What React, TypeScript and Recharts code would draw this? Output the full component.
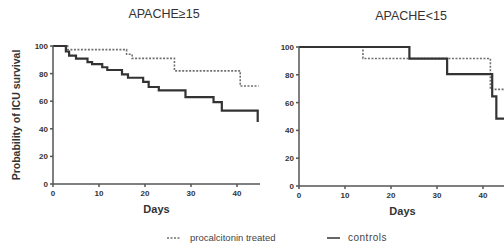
import { Line, LineChart, XAxis, YAxis } from "recharts"

const FONT = '"Liberation Sans", Arial, sans-serif'
const INK = "#333"
const DOTTED = "#707070"
const AXIS = "#555"
const TEXT = "#333"

const dayTicks = [0, 10, 20, 30, 40]
const pctTicks = [0, 20, 40, 60, 80, 100]

// APACHE >= 15
const highTreatedDays = [0, 3.2, 16, 17.2, 26.4, 40.7, 44.7]
const highTreatedPct = [100, 97.4, 94, 91, 82, 71, 71]
const highControlDays = [0, 2.8, 3.5, 5, 7.5, 8.5, 10.7, 11.8, 15, 16.3, 19.6, 20.8, 23, 28.8, 34.9, 36.7, 44.5]
const highControlPct = [100, 96, 93, 90.8, 88.3, 86.8, 84.6, 82.6, 79.5, 77, 74, 70.3, 67.9, 63, 59.3, 53.1, 45]

// APACHE < 15
const lowTreatedDays = [0, 13.9, 41.6, 45]
const lowTreatedPct = [100, 91.7, 69.5, 69.5]
const lowControlDays = [0, 24, 32.2, 42, 42.9, 45]
const lowControlPct = [100, 91.7, 80.5, 64.5, 48.5, 48.5]

type Point = { day: number; pct: number }

function zip(days: number[], pct: number[]): Point[] {
  return days.map((day, i) => ({ day, pct: pct[i] }))
}

function XTick(props: any) {
  const { x, y, payload } = props
  return (
    <text x={x} y={y + 6.5} textAnchor="middle" fontSize={8} fontWeight={700} fill={TEXT} fontFamily={FONT}>
      {payload.value}
    </text>
  )
}

function YTick(props: any) {
  const { x, y, payload } = props
  return (
    <text x={x} y={y + 2.9} textAnchor="end" fontSize={8} fontWeight={700} fill={TEXT} fontFamily={FONT}>
      {payload.value}
    </text>
  )
}

type PanelProps = {
  treated: Point[]
  controls: Point[]
  width: number
  margin: { top: number; right: number; bottom: number; left: number }
  yAxisWidth: number
  xAxisHeight: number
  showYLabel?: boolean
}

function SurvivalPanel({ treated, controls, width, margin, yAxisWidth, xAxisHeight, showYLabel }: PanelProps) {
  return (
    <LineChart width={width} height={244} margin={margin}>
      <XAxis
        type="number"
        dataKey="day"
        domain={[0, 45]}
        ticks={dayTicks}
        allowDataOverflow
        height={xAxisHeight}
        stroke={AXIS}
        strokeWidth={1.5}
        tickSize={3}
        tickMargin={2}
        tick={<XTick />}
        label={{
          value: "Days",
          position: "insideBottom",
          offset: 1,
          fontSize: 11,
          fontWeight: 700,
          fill: TEXT,
          fontFamily: FONT,
        }}
      />
      <YAxis
        type="number"
        domain={[0, 100]}
        ticks={pctTicks}
        width={yAxisWidth}
        stroke={AXIS}
        strokeWidth={1.5}
        tickSize={3}
        tickMargin={2}
        tick={<YTick />}
        label={
          showYLabel
            ? {
                value: "Probability of ICU survival",
                angle: -90,
                position: "insideLeft",
                offset: 8,
                fontSize: 10.5,
                fontWeight: 700,
                fill: TEXT,
                fontFamily: FONT,
                style: { textAnchor: "middle" },
              }
            : undefined
        }
      />
      <Line
        data={treated}
        dataKey="pct"
        type="stepAfter"
        stroke={DOTTED}
        strokeWidth={1.6}
        strokeDasharray="2 1.5"
        dot={false}
        isAnimationActive={false}
      />
      <Line
        data={controls}
        dataKey="pct"
        type="stepAfter"
        stroke={INK}
        strokeWidth={2.2}
        dot={false}
        isAnimationActive={false}
      />
    </LineChart>
  )
}

const titleStyle = {
  position: "absolute" as const,
  width: 200,
  textAlign: "center" as const,
  fontSize: 12.5,
  lineHeight: "13px",
  color: TEXT,
  fontFamily: FONT,
}

const legendText = {
  position: "absolute" as const,
  top: 232,
  fontSize: 9.5,
  lineHeight: "11px",
  color: "#444",
  fontFamily: FONT,
  whiteSpace: "nowrap" as const,
}

export default function App() {
  return (
    <div
      style={{
        position: "fixed",
        left: 0,
        top: 0,
        width: 504,
        height: 244,
        overflow: "hidden",
        background: "#fff",
      }}
    >
      <div style={{ position: "absolute", left: 0, top: 0 }}>
        <SurvivalPanel
          treated={zip(highTreatedDays, highTreatedPct)}
          controls={zip(highControlDays, highControlPct)}
          width={262}
          margin={{ top: 46, right: 2, bottom: 30, left: 8 }}
          yAxisWidth={45}
          xAxisHeight={30}
          showYLabel
        />
      </div>
      <div style={{ position: "absolute", left: 262, top: 0 }}>
        <SurvivalPanel
          treated={zip(lowTreatedDays, lowTreatedPct)}
          controls={zip(lowControlDays, lowControlPct)}
          width={250}
          margin={{ top: 47, right: 6, bottom: 28, left: 7 }}
          yAxisWidth={30}
          xAxisHeight={30}
        />
      </div>

      <div style={{ ...titleStyle, left: 64, top: 8 }}>APACHE≥15</div>
      <div style={{ ...titleStyle, left: 311, top: 10 }}>APACHE&lt;15</div>

      <svg style={{ position: "absolute", left: 167, top: 236 }} width={14} height={4}>
        <line x1={0} y1={2} x2={13} y2={2} stroke={DOTTED} strokeWidth={1.5} strokeDasharray="2 1.5" />
      </svg>
      <div style={{ ...legendText, left: 190 }}>procalcitonin treated</div>
      <svg style={{ position: "absolute", left: 327, top: 236 }} width={14} height={4}>
        <line x1={0} y1={2} x2={13} y2={2} stroke={INK} strokeWidth={1.5} />
      </svg>
      <div style={{ ...legendText, left: 348, fontSize: 10, letterSpacing: 0.5 }}>controls</div>
    </div>
  )
}
